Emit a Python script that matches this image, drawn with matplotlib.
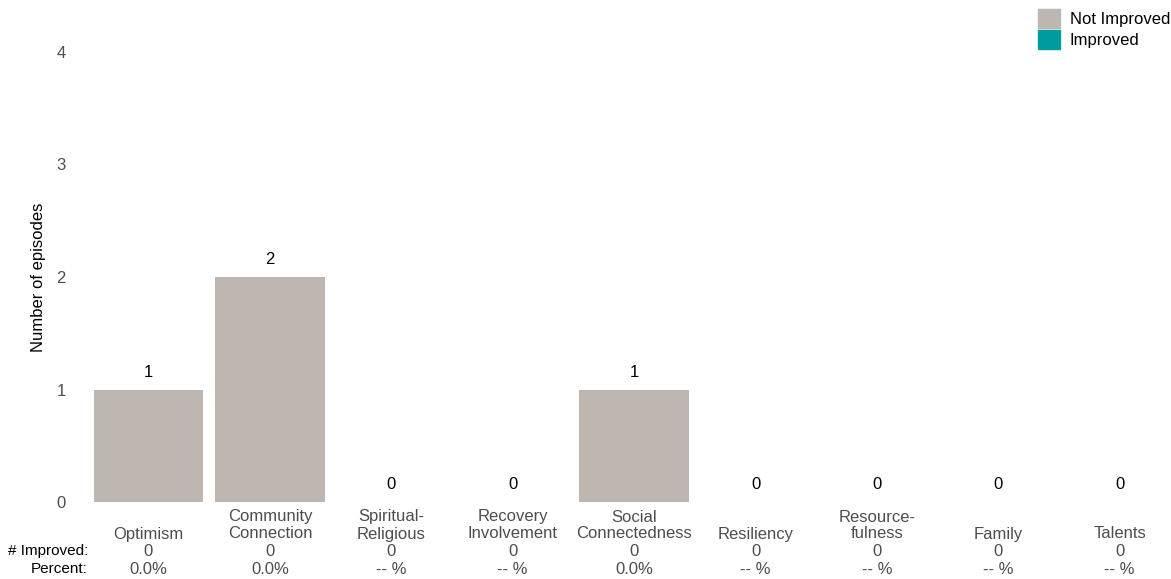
import numpy as np
import matplotlib
matplotlib.use("Agg")
import matplotlib.pyplot as plt
import matplotlib.patches as mpatches
import matplotlib.transforms as mtransforms

plt.rcParams['font.family'] = ['Liberation Sans', 'DejaVu Sans']

# data
categories = ["Optimism", "Community\nConnection", "Spiritual-\nReligious", "Recovery\nInvolvement",
              "Social\nConnectedness", "Resiliency", "Resource-\nfulness", "Family", "Talents"]
episodes = [1, 2, 0, 0, 1, 0, 0, 0, 0]
improved = [0, 0, 0, 0, 0, 0, 0, 0, 0]
percent_labels = ["0.0%", "0.0%", "-- %", "-- %", "0.0%", "-- %", "-- %", "-- %", "-- %"]

col_not = "#BEB6B0"
col_imp = "#009B9E"
fs = 12

W, H = 1171, 579
fig = plt.figure(figsize=(W / 100, H / 100), dpi=100)
# axes: x px 88..1165, y px 52..502
ax = fig.add_axes([88 / W, 1 - 502 / H, (1165 - 88) / W, (502 - 52) / H])

x = np.arange(len(categories))
not_imp = np.array(episodes) - np.array(improved)
ax.bar(x, not_imp, width=0.9, color=col_not)
ax.bar(x, improved, width=0.9, bottom=not_imp, color=col_imp)

for xi, v in zip(x, episodes):
    ax.annotate(str(v), (xi, v), xytext=(0, 7), textcoords="offset points",
                ha="center", va="bottom", fontsize=fs, color="black")

unit = 121.4
ax.set_xlim((88 - 148.5) / unit, (1165 - 148.5) / unit)
ax.set_ylim(0, 4)
ax.set_yticks([0, 1, 2, 3, 4])
ax.tick_params(axis="y", length=0, labelsize=fs, labelcolor="#4D4D4D", pad=16)
ax.set_xticks([])
for s in ax.spines.values():
    s.set_visible(False)
ax.set_ylabel("Number of episodes", fontsize=fs)
ax.yaxis.set_label_coords(-42 / (1165 - 88), 0.5)

# table under the bars
tr = mtransforms.blended_transform_factory(ax.transData, fig.transFigure)
def fy(p):
    return 1 - p / H

for xi, lab, n_imp, pct in zip(x, categories, improved, percent_labels):
    lines = lab.split("\n")
    for k, line in enumerate(reversed(lines)):
        ax.text(xi, fy(534 - 17 * k), line, transform=tr, ha="center", va="center",
                fontsize=fs, color="#4D4D4D")
    ax.text(xi, fy(551), str(n_imp), transform=tr, ha="center", va="center",
            fontsize=fs, color="#4D4D4D")
    ax.text(xi, fy(569), pct, transform=tr, ha="center", va="center",
            fontsize=fs, color="#4D4D4D")

fig.text(88 / W, fy(551), "# Improved:", ha="right", va="center", fontsize=11, color="black")
fig.text(88 / W, fy(569), "Percent:", ha="right", va="center", fontsize=11, color="black")

handles = [mpatches.Patch(color=col_not, label="Not Improved"),
           mpatches.Patch(color=col_imp, label="Improved")]
fig.legend(handles=handles, loc="upper right", bbox_to_anchor=(1170 / W, 1 - 9 / H),
           frameon=False, fontsize=fs, handlelength=1.32, handleheight=1.38,
           handletextpad=0.6, labelspacing=0.12, borderpad=0, borderaxespad=0)

fig.savefig("out.png", dpi=100)
